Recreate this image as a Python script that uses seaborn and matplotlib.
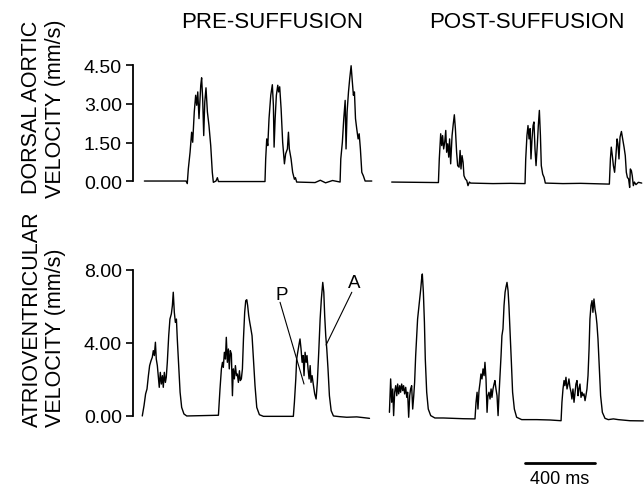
import matplotlib
matplotlib.use("Agg")
import matplotlib.pyplot as plt
import seaborn as sns

sns.set_style("white")
plt.rcParams['font.family'] = ['Liberation Sans', 'DejaVu Sans']
plt.rcParams['text.color'] = 'black'

# 시간 (ms), 속도 (mm/s) - 그림에서 읽은 값
dorsal_pre_t = [25, 263, 270, 276, 286, 295, 301, 310, 318, 324, 330, 337, 347, 352, 358, 364, 370, 377, 385, 394,
                404, 413, 419, 434, 442, 448, 714, 718, 724, 730, 737, 747, 756, 762, 766, 772, 779, 787, 792, 798,
                806, 815, 825, 832, 842, 848, 853, 863, 872, 882, 888, 895, 1000, 1030, 1060, 1100, 1143, 1147, 1156,
                1164, 1172, 1177, 1183, 1191, 1198, 1206, 1213, 1219, 1225, 1231, 1238, 1246, 1252, 1259, 1267, 1276,
                1286, 1324]
dorsal_pre_v = [0, 0, -0.1, 0.47, 1.12, 1.9, 1.51, 2.69, 3.34, 2.95, 3.47, 2.43, 3.73, 4.02, 3.21, 1.77, 3.08, 3.63,
                2.69, 2.16, 1.38, 0.34, -0.05, 0, 0.13, -0.02, -0.02, 0.86, 1.64, 1.38, 2.43, 3.34, 3.75, 2.95, 1.32,
                2.43, 3.34, 3.73, 3.47, 3.67, 2.82, 1.51, 0.67, 1.06, 1.25, 1.9, 1.25, 0.86, 0.34, 0.07, 0.13, -0.04,
                -0.06, 0.03, -0.07, 0.02, -0.04, 0.86, 1.51, 2.43, 3.14, 1.25, 2.69, 3.47, 3.99, 4.49, 3.86, 3.34,
                3.47, 2.43, 2.04, 1.64, 1.84, 1.25, 0.34, 0.2, 0, 0]

dorsal_post_t = [21, 288, 293, 301, 307, 312, 318, 324, 330, 335, 341, 347, 352, 358, 366, 373, 379, 385, 392, 398,
                 406, 412, 417, 423, 429, 434, 442, 450, 457, 465, 472, 600, 700, 783, 787, 794, 800, 806, 812, 817,
                 823, 829, 834, 840, 846, 853, 859, 865, 871, 876, 884, 892, 899, 1000, 1100, 1265, 1271, 1276, 1282,
                 1288, 1295, 1301, 1309, 1314, 1320, 1326, 1334, 1341, 1349, 1356, 1362, 1368, 1375, 1381, 1385, 1391,
                 1396, 1402, 1408, 1417, 1431, 1450]
dorsal_post_v = [-0.04, -0.06, 0.86, 1.84, 1.38, 1.77, 1.25, 1.51, 1.97, 1.12, 1.45, 0.93, 1.64, 0.67, 1.77, 2.23,
                 2.58, 2.04, 1.12, 0.6, 0.54, 1.19, 0.47, 0.99, 0.73, 0.21, 0.08, 0.02, -0.18, -0.04, -0.08, -0.1,
                 -0.09, -0.1, 0.86, 1.77, 2.16, 1.64, 2.04, 0.86, 1.64, 2.16, 2.3, 1.25, 0.6, 1.38, 2.16, 2.75, 1.77,
                 0.6, 0.27, 0.14, -0.08, -0.1, -0.09, -0.12, 0.86, 1.32, 0.99, 0.6, 0.34, 0.86, 1.64, 1.45, 0.86, 1.71,
                 1.93, 1.64, 1.32, 0.99, 0.34, 0.14, 0.08, -0.25, 0.47, 0.4, 0.2, -0.18, -0.04, -0.14, -0.05, -0.08]

av_pre_t = [13, 23, 32, 40, 48, 55, 63, 70, 76, 82, 88, 93, 99, 105, 110, 116, 122, 128, 133, 139, 145, 150, 156,
            164, 171, 179, 185, 190, 196, 202, 208, 213, 221, 229, 238, 251, 267, 448, 457, 465, 471, 476, 482, 488,
            493, 499, 505, 510, 516, 522, 528, 533, 539, 545, 551, 556, 562, 568, 573, 579, 585, 591, 598, 604, 610,
            615, 621, 627, 632, 640, 648, 657, 667, 682, 705, 876, 882, 890, 895, 901, 909, 914, 920, 926, 932, 937,
            943, 949, 954, 960, 966, 972, 977, 983, 991, 998, 1006, 1013, 1021, 1029, 1036, 1044, 1050, 1055, 1061,
            1067, 1074, 1082, 1092, 1105, 1143, 1181, 1238, 1276, 1311]
av_pre_v = [0, 0.57, 1.21, 1.48, 2.21, 2.76, 3.03, 3.21, 3.58, 3.31, 4.04, 3.12, 2.76, 2.12, 1.57, 2.39, 1.75, 2.21,
            1.57, 2.39, 1.84, 2.12, 2.94, 4.40, 5.31, 5.59, 6.05, 6.78, 5.68, 5.13, 5.31, 4.22, 2.76, 1.30, 0.47, 0.11,
            0, 0.04, 1.48, 2.58, 2.94, 2.67, 3.49, 3.12, 4.31, 2.94, 3.67, 2.58, 3.58, 3.40, 1.11, 2.58, 2.03, 2.76,
            2.21, 2.30, 1.84, 2.48, 1.94, 2.03, 2.58, 4.22, 5.68, 6.32, 6.37, 6.05, 5.50, 5.13, 4.86, 4.40, 3.12, 1.66,
            0.47, 0.07, -0.02, -0.02, 0.75, 2.03, 3.12, 3.49, 3.95, 4.22, 3.67, 2.94, 3.31, 2.21, 3.49, 2.94, 3.31,
            2.58, 2.03, 2.76, 1.84, 2.21, 1.66, 1.21, 0.93, 1.84, 3.49, 5.31, 6.41, 7.32, 6.78, 5.50, 4.40, 3.67, 2.58,
            1.11, 0.29, 0, -0.04, -0.07, -0.05, -0.09, -0.13]

av_post_t = [8, 15, 21, 27, 32, 38, 44, 50, 55, 61, 67, 72, 78, 84, 89, 95, 101, 107, 112, 118, 124, 129, 135, 141,
             147, 152, 158, 164, 169, 175, 181, 187, 192, 196, 202, 208, 213, 221, 230, 244, 268, 316, 373, 430, 497,
             503, 509, 514, 520, 526, 531, 537, 543, 549, 554, 560, 566, 571, 577, 583, 589, 594, 600, 606, 611, 617,
             623, 629, 634, 640, 646, 651, 657, 663, 669, 674, 680, 686, 691, 697, 705, 712, 722, 735, 764, 850, 926,
             989, 994, 1000, 1006, 1011, 1017, 1023, 1029, 1034, 1040, 1046, 1051, 1057, 1063, 1069, 1074, 1080, 1086,
             1091, 1097, 1103, 1109, 1114, 1120, 1126, 1131, 1137, 1143, 1149, 1154, 1160, 1166, 1171, 1177, 1183,
             1189, 1194, 1200, 1208, 1215, 1225, 1240, 1259, 1288, 1316, 1383, 1459]
av_post_v = [0.20, 2.03, 0.75, 1.48, 0.02, 1.30, 1.66, 1.11, 1.75, 1.21, 1.66, 1.30, 1.75, 1.39, 1.66, 1.21, 1.57,
             1.02, 1.30, -0.07, 1.11, 1.48, 1.66, 0.38, 1.11, 1.84, 3.31, 4.40, 5.31, 5.86, 6.41, 6.96, 7.51, 7.78,
             6.78, 5.13, 3.12, 1.30, 0.38, 0.02, -0.11, -0.11, -0.13, -0.15, -0.16, 0.75, 1.30, 0.38, 1.39, 1.84,
             2.30, 2.03, 2.58, 2.21, 2.94, 2.03, 0.20, 1.11, 1.30, 0.93, 1.48, 1.02, 1.48, 1.75, 1.94, 1.48, 1.11,
             0.02, 1.11, 2.21, 3.31, 4.40, 4.77, 6.05, 6.78, 7.05, 7.32, 6.87, 6.05, 4.77, 2.94, 1.30, 0.38, -0.07,
             -0.20, -0.20, -0.22, -0.26, 0.75, 1.48, 1.94, 1.66, 2.12, 1.48, 1.75, 2.03, 1.57, 1.30, 0.93, 1.48, 0.75,
             1.30, 1.75, 1.94, 1.11, 1.48, 1.75, 1.02, 1.30, 1.11, 1.21, 0.84, 1.11, 1.48, 2.21, 3.67, 5.31, 6.05,
             6.32, 5.68, 6.41, 5.86, 5.50, 5.04, 4.22, 2.58, 1.11, 0.20, -0.13, -0.20, -0.16, -0.20, -0.26, -0.27]

# 눈금
dorsal_ticks = [0, 1.5, 3.0, 4.5]
dorsal_ticklabels = ["0.00", "1.50", "3.00", "4.50"]
av_ticks = [0, 4, 8]
av_ticklabels = ["0.00", "4.00", "8.00"]

# P / A 표시선 (ms, mm/s)
p_line_t = [800, 937]
p_line_v = [6.23, 1.75]
a_line_t = [1210, 1063]
a_line_v = [6.78, 3.89]

scale_ms = 400
scale_start = 783

W, H = 644, 489
fig = plt.figure(figsize=(W / 100, H / 100), dpi=100)


def box(x0, x1, ytop, ybot):
    # 픽셀 -> figure 비율
    return [x0 / W, 1 - ybot / H, (x1 - x0) / W, (ybot - ytop) / H]


ax_dp = fig.add_axes(box(133, 380, 63.9, 192.3))
ax_dq = fig.add_axes(box(384, 644, 63.9, 192.3))
ax_ap = fig.add_axes(box(133, 380, 265.5, 426.1))
ax_aq = fig.add_axes(box(384, 644, 265.5, 426.1))

series = [(ax_dp, dorsal_pre_t, dorsal_pre_v), (ax_dq, dorsal_post_t, dorsal_post_v),
          (ax_ap, av_pre_t, av_pre_v), (ax_aq, av_post_t, av_post_v)]
for ax, t, v in series:
    sns.lineplot(x=t, y=v, ax=ax, color="black", lw=1.0, estimator=None, sort=False)
    for s in ax.spines.values():
        s.set_visible(False)
    ax.set_xticks([])
    ax.set_yticks([])
    ax.patch.set_alpha(0)

ax_dp.set_xlim(-40, 1371)
ax_ap.set_xlim(-40, 1371)
ax_dq.set_xlim(-23, 1463)
ax_aq.set_xlim(-23, 1463)
ax_dp.set_ylim(-0.4, 4.6)
ax_dq.set_ylim(-0.4, 4.6)
ax_ap.set_ylim(-0.5, 8.3)
ax_aq.set_ylim(-0.5, 8.3)

for ax, ticks, labels in [(ax_dp, dorsal_ticks, dorsal_ticklabels), (ax_ap, av_ticks, av_ticklabels)]:
    ax.spines['left'].set_visible(True)
    ax.spines['left'].set_color("black")
    ax.spines['left'].set_linewidth(1.3)
    ax.spines['left'].set_bounds(ticks[0], ticks[-1])
    ax.set_yticks(ticks)
    ax.set_yticklabels(labels)
    ax.tick_params(axis="y", direction="out", length=5, width=1.2, labelsize=14, pad=3, left=True,
                   colors="black")

# P, A 표시
ax_ap.plot(p_line_t, p_line_v, color="black", lw=0.8)
ax_ap.plot(a_line_t, a_line_v, color="black", lw=0.8)
ax_ap.text(810, 6.68, "P", fontsize=13.5, ha="center", va="center")
ax_ap.text(1223, 7.29, "A", fontsize=13.5, ha="center", va="center")

# 400 ms 스케일 바
ax_aq.plot([scale_start, scale_start + scale_ms], [-2.6, -2.6], color="black", lw=2, clip_on=False)
ax_aq.text(scale_start + scale_ms / 2, -2.95, f"{scale_ms} ms", fontsize=13, ha="center", va="top", clip_on=False)

fig.text(272 / W, 1 - 23 / H, "PRE-SUFFUSION", fontsize=16, ha="center", va="center")
fig.text(527 / W, 1 - 23 / H, "POST-SUFFUSION", fontsize=16, ha="center", va="center")

fig.text(32 / W, 1 - 21 / H, "DORSAL AORTIC", rotation=90, fontsize=15.5, ha="center", va="top")
fig.text(56 / W, 1 - 19 / H, "VELOCITY (mm/s)", rotation=90, fontsize=15.5, ha="center", va="top")
fig.text(32 / W, 1 - 427 / H, "ATRIOVENTRICULAR", rotation=90, fontsize=15.5, ha="center", va="bottom")
fig.text(56 / W, 1 - 427 / H, "VELOCITY (mm/s)", rotation=90, fontsize=15.5, ha="center", va="bottom")

fig.savefig("out.png", dpi=100, facecolor="white")
